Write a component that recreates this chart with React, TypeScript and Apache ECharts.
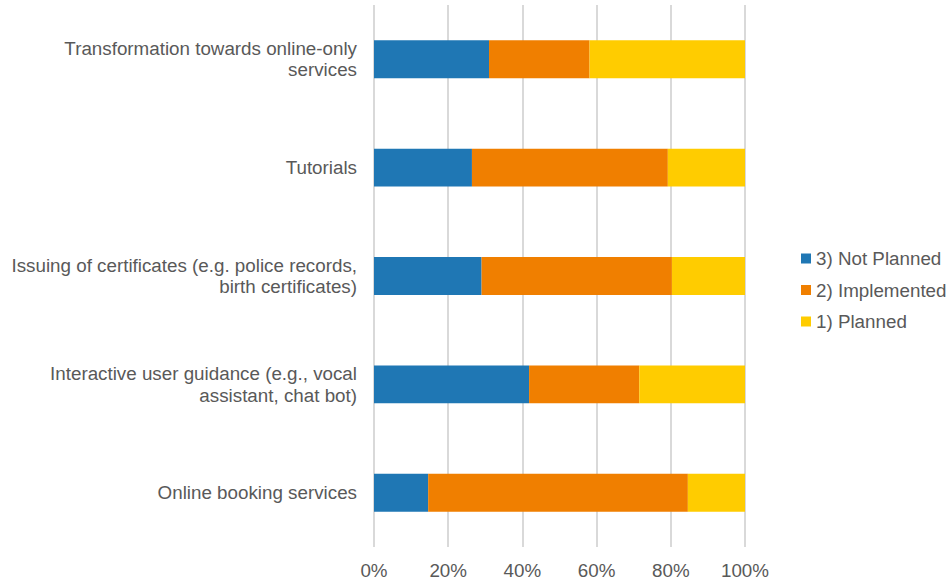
import React, { useEffect, useRef } from "react";
import * as echarts from "echarts";

const categories = [
  "Transformation towards online-only\nservices",
  "Tutorials",
  "Issuing of certificates (e.g. police records,\nbirth certificates)",
  "Interactive user guidance (e.g., vocal\nassistant, chat bot)",
  "Online booking services",
];
const notPlanned = [31.0, 26.4, 29.0, 41.8, 14.6];
const implemented = [27.1, 52.8, 51.3, 29.7, 70.0];
const planned = [41.9, 20.8, 19.7, 28.5, 15.4];
const seriesNames = ["3) Not Planned", "2) Implemented", "1) Planned"];
const colors = ["#1F77B4", "#F07F00", "#FFCC00"];

export default function App() {
  const ref = useRef<HTMLDivElement>(null);
  useEffect(() => {
    if (!ref.current) return;
    const chart = echarts.init(ref.current, undefined, { renderer: "svg" });
    const font = "'Liberation Sans', Arial, sans-serif";
    const fs = 18.8;
    const mk = (name: string, data: number[], color: string) => ({
      name,
      type: "bar",
      stack: "total",
      data,
      barWidth: "35%",
      itemStyle: { color },
    });
    chart.setOption({
      animation: false,
      textStyle: { fontFamily: font },
      grid: { left: 374, right: 205, top: 5, bottom: 35, containLabel: false },
      legend: {
        orient: "vertical",
        left: 796,
        top: 244,
        itemWidth: 10,
        itemHeight: 10,
        itemGap: 12.5,
        icon: "rect",
        textStyle: { color: "#595959", fontSize: fs, fontFamily: font },
        data: seriesNames,
      },
      xAxis: {
        type: "value",
        min: 0,
        max: 100,
        interval: 20,
        axisLabel: { formatter: "{value}%", color: "#595959", fontSize: fs, margin: 14, fontFamily: font },
        splitLine: { show: true, lineStyle: { color: "#D9D9D9", width: 2 } },
        axisLine: { show: false },
        axisTick: { show: false },
      },
      yAxis: {
        type: "category",
        inverse: true,
        data: categories,
        axisLine: { show: false },
        axisTick: { show: false },
        axisLabel: { color: "#595959", fontSize: fs, margin: 17, lineHeight: 21.5, fontFamily: font, align: "right" },
      },
      series: [
        mk(seriesNames[0], notPlanned, colors[0]),
        mk(seriesNames[1], implemented, colors[1]),
        mk(seriesNames[2], planned, colors[2]),
      ],
    });
    return () => chart.dispose();
  }, []);
  return <div ref={ref} style={{ width: 950, height: 582, position: "absolute", left: 0, top: 0 }} />;
}
